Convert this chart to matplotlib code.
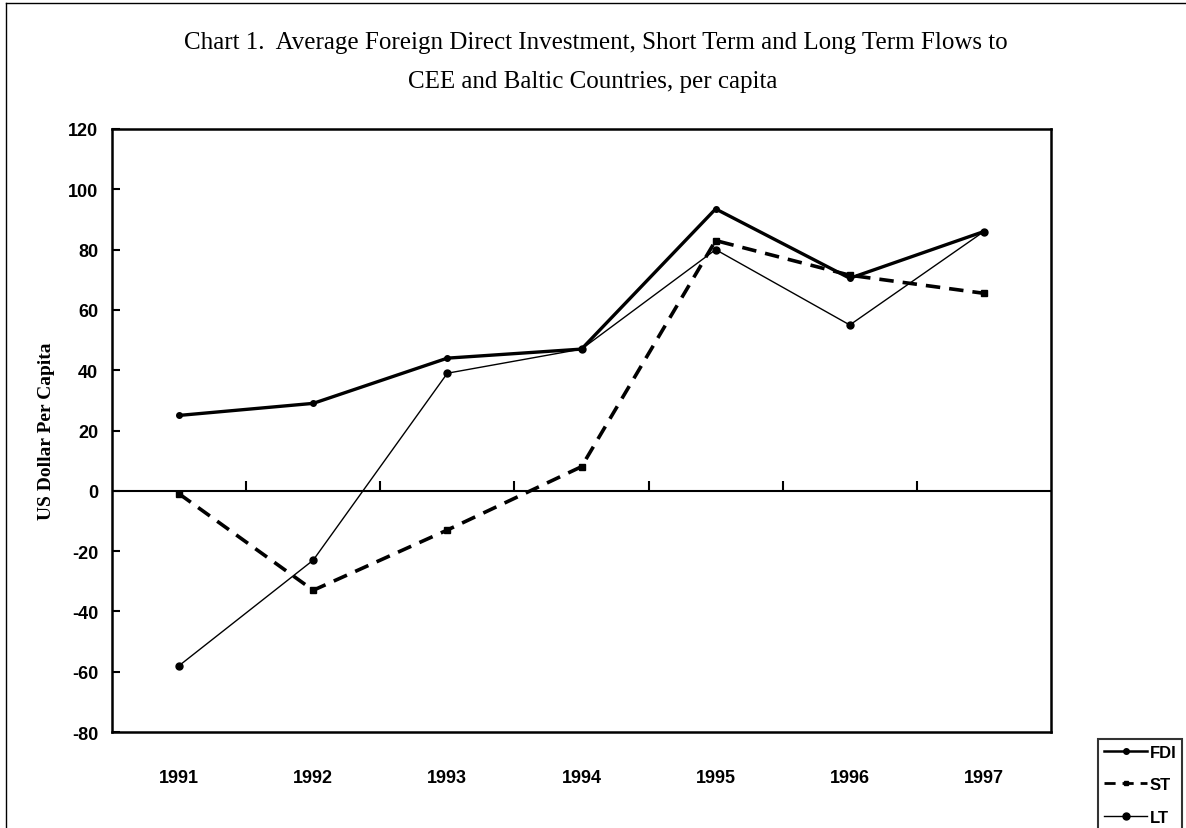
import matplotlib.pyplot as plt
from matplotlib.lines import Line2D

years = ["1991", "1992", "1993", "1994", "1995", "1996", "1997"]
fdi = [25, 29, 44, 47, 93.5, 70.5, 86]
st = [-1, -33, -13, 8, 83, 71.5, 65.5]
lt = [-58, -23, 39, 47, 80, 55, 86]
yticks = [-80, -60, -40, -20, 0, 20, 40, 60, 80, 100, 120]

serif = "Liberation Serif"
sans = "Liberation Sans"

fig = plt.figure(figsize=(11.86, 8.29), dpi=100)
ax = fig.add_axes([112 / 1186, 1 - 733 / 829, (1051 - 112) / 1186, (733 - 130) / 829])

x = list(range(len(years)))
ax.plot(x, fdi, "-", color="black", lw=2.4, marker="o", ms=4)
ax.plot(x, st, color="black", lw=2.6, ls=(0, (4, 2.5)), marker="s", ms=4)
ax.plot(x, lt, "-", color="black", lw=1.0, marker="o", ms=5)

ax.axhline(0, color="black", lw=1.5)
bounds = [i + 0.5 for i in range(len(years) - 1)]
ax.plot(bounds, [0] * len(bounds), ls="none", marker=2, ms=7, mew=1.5, color="black")

ax.set_xlim(-0.5, len(years) - 0.5)
ax.set_ylim(-80, 120)
ax.set_yticks(yticks)
ax.set_yticklabels([str(v) for v in yticks], fontfamily=sans, fontweight="bold", fontsize=13)
ax.set_xticks(x)
ax.set_xticklabels(years, fontfamily=sans, fontweight="bold", fontsize=13)
ax.tick_params(axis="y", direction="in", length=6, width=1.5, pad=10)
ax.tick_params(axis="x", length=0, pad=27)
for s in ax.spines.values():
    s.set_linewidth(1.8)

ax.set_ylabel("US Dollar Per Capita", fontfamily=serif, fontweight="bold", fontsize=14, labelpad=9)

fig.text(0.502, 1 - 43 / 829, "Chart 1.  Average Foreign Direct Investment, Short Term and Long Term Flows to",
         ha="center", va="center", fontfamily=serif, fontsize=18)
fig.text(0.5, 1 - 82 / 829, "CEE and Baltic Countries, per capita",
         ha="center", va="center", fontfamily=serif, fontsize=18)

# page border fragments
fig.add_artist(Line2D([6 / 1186, 6 / 1186], [0, 1 - 4 / 829], color="black", lw=1))
fig.add_artist(Line2D([6 / 1186, 1], [1 - 4 / 829, 1 - 4 / 829], color="black", lw=1))

handles = [
    Line2D([], [], color="black", lw=1.8, marker="o", ms=4),
    Line2D([], [], color="black", lw=2, ls=(0, (4, 2.5)), marker="s", ms=3),
    Line2D([], [], color="black", lw=1.0, marker="o", ms=5),
]
leg = fig.legend(handles, ["FDI", "ST", "LT"], loc="upper left",
                 bbox_to_anchor=(1098 / 1186, 1 - 740 / 829),
                 prop={"family": sans, "weight": "bold", "size": 12},
                 handlelength=2.6, handletextpad=0.15, labelspacing=1.05,
                 borderpad=0.35, borderaxespad=0, fancybox=False, frameon=True)
leg.get_frame().set_edgecolor("black")
leg.get_frame().set_linewidth(1.5)

fig.savefig("out.png", dpi=100)
